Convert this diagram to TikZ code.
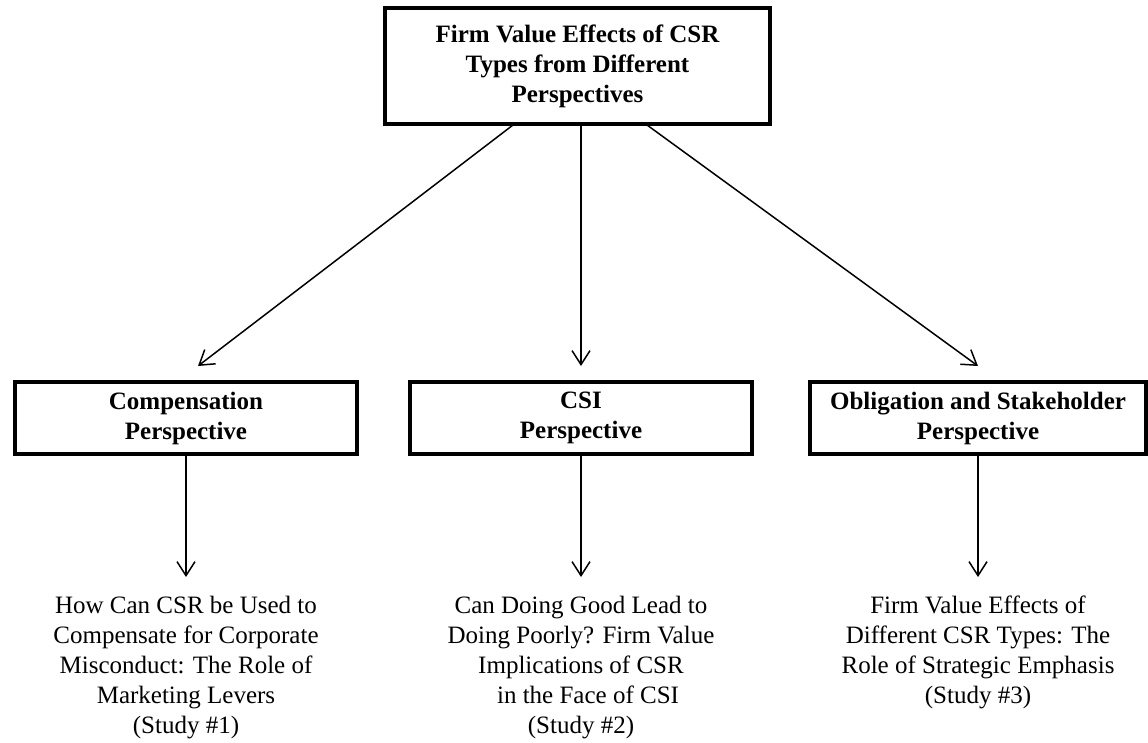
\documentclass[tikz,border=0pt]{standalone}
\usepackage{fontspec}
\setmainfont{Liberation Serif}
\usetikzlibrary{arrows.meta}
\begin{document}
\begin{tikzpicture}[x=1pt,y=-1pt,
  box/.style={draw, line width=4pt, align=center, inner sep=0pt,
    font=\fontsize{25}{30}\selectfont\bfseries},
  study/.style={align=center, anchor=north, inner sep=0pt,
    font=\fontsize{25}{30}\selectfont},
  arr/.style={line width=1.5pt, -{Straight Barb[length=14pt,width=18pt]}}]
\useasboundingbox (0,0) rectangle (1148,742);
\node[box, minimum width=385pt, minimum height=116pt] (top) at (577.5,66)
  {Firm Value Effects of CSR\\Types from Different\\Perspectives};
\node[box, minimum width=342pt, minimum height=72pt] (comp) at (186,418)
  {Compensation\\Perspective};
\node[box, minimum width=342pt, minimum height=72pt] (csi) at (581,418)
  {CSI\\Perspective};
\node[box, minimum width=336pt, minimum height=72pt] (obl) at (978,418)
  {Obligation and Stakeholder\\Perspective};
\node[study] (t1) at (186,596)
  {How Can CSR be Used to\\Compensate for Corporate\\Misconduct: The Role of\\Marketing Levers\\(Study \#1)};
\node[study] (t2) at (581,596)
  {Can Doing Good Lead to\\Doing Poorly? Firm Value\\Implications of CSR\\\hspace*{14pt}in the Face of CSI\\(Study \#2)};
\node[study] (t3) at (978,596)
  {Firm Value Effects of\\Different CSR Types: The\\Role of Strategic Emphasis\\(Study \#3)};
\coordinate (s1) at (513,125);
\coordinate (s3) at (647,125);
\coordinate (e1) at (198,366);
\coordinate (e2) at (581,366);
\coordinate (e3) at (978,366);
\coordinate (f1) at (186,577);
\coordinate (f2) at (581,577);
\coordinate (f3) at (978,577);
\draw[arr] (s1) -- (e1);
\draw[arr] (top.south -| e2) -- (e2);
\draw[arr] (s3) -- (e3);
\draw[arr] (comp.south) -- (f1);
\draw[arr] (csi.south) -- (f2);
\draw[arr] (obl.south) -- (f3);
\end{tikzpicture}
\end{document}
